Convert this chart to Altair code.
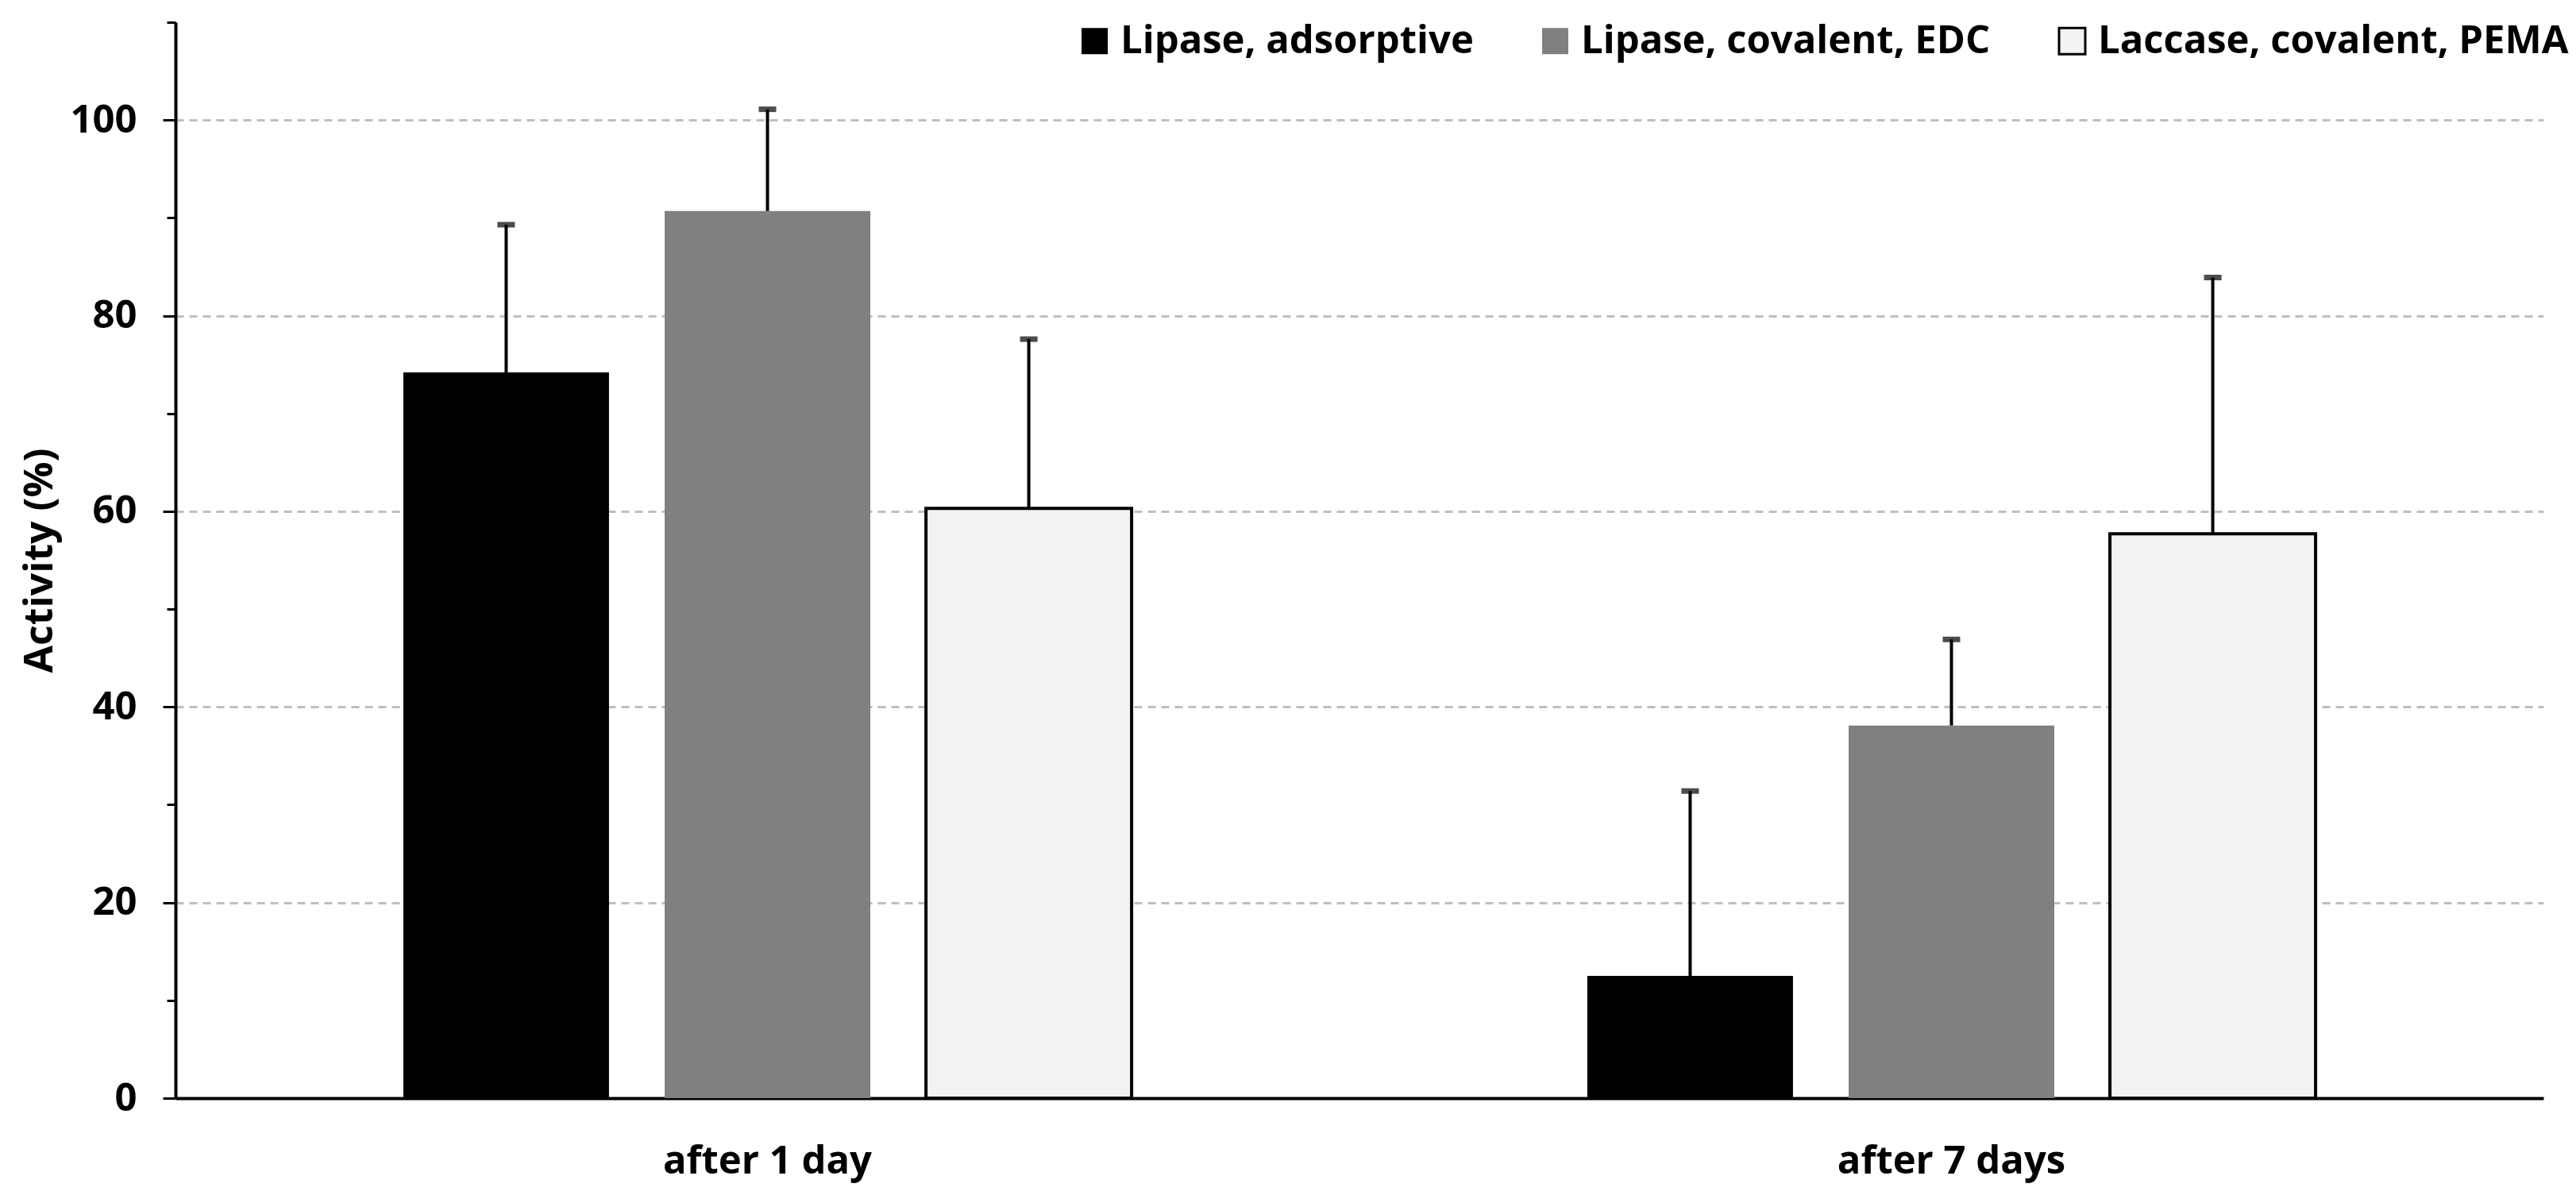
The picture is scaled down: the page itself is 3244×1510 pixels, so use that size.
import altair as alt
import pandas as pd

periods = ["after 1 day", "after 7 days"]
series = ["Lipase, adsorptive", "Lipase, covalent, EDC", "Laccase, covalent, PEMA"]
activity_day1 = [74.2, 90.7, 60.3]
activity_day7 = [12.5, 38.1, 57.7]
error_day1 = [15.1, 10.4, 17.3]
error_day7 = [18.9, 8.8, 26.2]

fill_colors = ["#000000", "#808080", "#F2F2F2"]
stroke_colors = ["transparent", "transparent", "#000000"]

rows = []
for p, vals, errs in [(periods[0], activity_day1, error_day1), (periods[1], activity_day7, error_day7)]:
    for s, v, e in zip(series, vals, errs):
        rows.append({"period": p, "series": s, "value": v, "upper": v + e})
df = pd.DataFrame(rows)

FONT = "Open Sans"

x_enc = alt.X("period:N", sort=periods,
              scale=alt.Scale(paddingInner=0, paddingOuter=0),
              axis=alt.Axis(title=None, ticks=False, labelPadding=55, labelAngle=0,
                            labelFontSize=49, labelLimit=0,
                            domainWidth=4, domainColor="#000000"))
xoff = alt.XOffset("series:N", sort=series,
                   scale=alt.Scale(paddingInner=0.213, paddingOuter=0.872))
y_scale = alt.Scale(domain=[0, 110], nice=False, zero=True)

base = alt.Chart(df)

bars = base.mark_bar(strokeWidth=4).encode(
    x=x_enc,
    xOffset=xoff,
    y=alt.Y("value:Q", scale=y_scale,
            axis=alt.Axis(
                title="Activity (%)",
                values=list(range(0, 111, 10)),
                labelExpr="datum.value % 20 === 0 ? datum.label : ''",
                tickSize={"condition": {"test": "datum.value % 20 === 0", "value": 16}, "value": 11},
                tickWidth=3, tickColor="#000000",
                domainWidth=4, domainColor="#000000",
                labelPadding=33, labelFontSize=49,
                titleFontSize=50, titlePadding=12,
                grid=True, gridColor="#BFBFBF", gridWidth=3, gridDash=[10, 7],
                gridOpacity={"condition": {"test": "datum.value % 20 === 0 && datum.value > 0", "value": 1}, "value": 0},
            )),
    fill=alt.Fill("series:N", sort=series,
                  scale=alt.Scale(domain=series, range=fill_colors),
                  legend=alt.Legend(title=None)),
    stroke=alt.Stroke("series:N", sort=series,
                      scale=alt.Scale(domain=series, range=stroke_colors),
                      legend=alt.Legend(title=None)),
)

err_rule = base.mark_rule(color="#000000", strokeWidth=4).encode(
    x=alt.X("period:N", sort=periods),
    xOffset=alt.XOffset("series:N", sort=series),
    y=alt.Y("value:Q", scale=y_scale),
    y2="upper:Q",
)

err_cap = base.mark_tick(color="#000000", size=22, thickness=7).encode(
    x=alt.X("period:N", sort=periods),
    xOffset=alt.XOffset("series:N", sort=series),
    y=alt.Y("upper:Q", scale=y_scale),
)

chart = alt.layer(bars, err_rule, err_cap).properties(
    width=2982,
    height=1355,
    padding={"left": 213, "top": 20, "right": 33, "bottom": 119},
    autosize=alt.AutoSizeParams(type="none"),
).configure(
    font=FONT,
).configure_axis(
    labelFont=FONT, titleFont=FONT, labelFontWeight="bold", titleFontWeight="bold",
    labelColor="#000000", titleColor="#000000",
).configure_view(
    stroke=None,
).configure_legend(
    orient="none", legendX=1133, legendY=-1, direction="horizontal",
    symbolType="square", symbolSize=1089, symbolStrokeWidth=3,
    labelFont=FONT, labelFontSize=49, labelFontWeight="bold", labelColor="#000000",
    labelOffset=8, columnPadding=78, padding=0, labelLimit=0,
)

chart.save("out.html", embed_options={"renderer": "svg", "actions": False})
